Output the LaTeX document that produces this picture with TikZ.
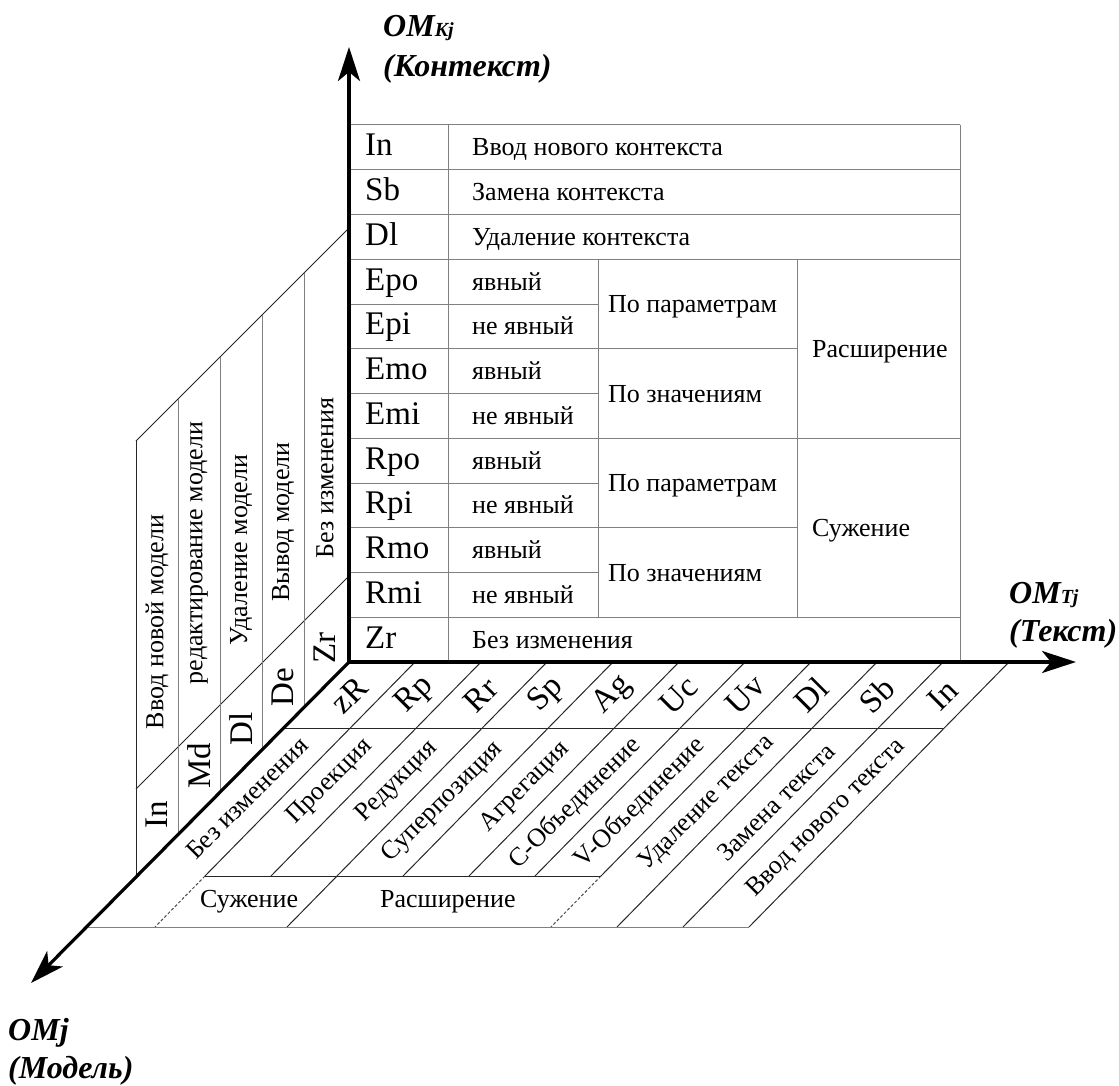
\documentclass[tikz,border=0pt]{standalone}
\usepackage{fontspec}
\setmainfont{Liberation Serif}
\usetikzlibrary{arrows.meta}
\begin{document}
\begin{tikzpicture}[x=1pt,y=-1pt,
  axis/.style={line width=3.2pt, line cap=round, -{Stealth[length=34pt,width=22pt,inset=9pt]}},
  grid/.style={line width=1pt, draw=black!50},
  edge/.style={line width=1pt, draw=black!85},
  seam/.style={line width=1pt, draw=black!70, dash pattern=on 3pt off 2pt},
  code/.style={font=\fontsize{33}{33}\selectfont, inner sep=0pt},
  txt/.style={font=\fontsize{26}{26}\selectfont, inner sep=0pt},
  axlbl/.style={font=\fontsize{32}{32}\selectfont\bfseries\itshape, inner sep=0pt, anchor=base west},
]
\useasboundingbox (0,0) rectangle (1119,1086);

% origin and axis ends
\coordinate (O) at (349,662);
\coordinate (Ktip) at (349,47);
\coordinate (Ttip) at (1076,662);
\coordinate (Mtip) at (31,983);

% ---------- back wall: context table ----------
\foreach \y in {125,169.75,214.5,259.25,438.25,617.25}
  \draw[grid] (349,\y) -- (960,\y);
\foreach \y in {304,393.5,483,572.5}
  \draw[grid] (349,\y) -- (598,\y);
\foreach \y in {348.75,527.75}
  \draw[grid] (349,\y) -- (797,\y);
\draw[grid] (448,125) -- (448,662);
\draw[grid] (598,259.25) -- (598,617.25);
\draw[grid] (797,259.25) -- (797,617.25);
\draw[grid] (960,125) -- (960,662);

\foreach \c [count=\i] in {In,Sb,Dl,Epo,Epi,Emo,Emi,Rpo,Rpi,Rmo,Rmi,Zr}
  \node[code, anchor=base west] (kc\i) at (365,{111.1+44.75*\i}) {\c};

\node[txt, anchor=base west] (kt1) at (472,155.9) {Ввод нового контекста};
\node[txt, anchor=base west] (kt2) at (472,200.6) {Замена контекста};
\node[txt, anchor=base west] (kt3) at (472,245.4) {Удаление контекста};
\foreach \r in {4,6,8,10}
  \node[txt, anchor=base west] (ky\r) at (472,{111.1+44.75*\r}) {явный};
\foreach \r in {5,7,9,11}
  \node[txt, anchor=base west] (kn\r) at (472,{111.1+44.75*\r}) {не явный};
\node[txt, anchor=base west] (kt12) at (472,648.1) {Без изменения};

\node[txt, anchor=base west] (kp1) at (608,312.5) {По параметрам};
\node[txt, anchor=base west] (kv1) at (608,402) {По значениям};
\node[txt, anchor=base west] (kp2) at (608,491.5) {По параметрам};
\node[txt, anchor=base west] (kv2) at (608,581) {По значениям};
\node[txt, anchor=base west] (ke) at (812,357.3) {Расширение};
\node[txt, anchor=base west] (kr) at (812,536.3) {Сужение};

% ---------- side wall: model operations ----------
\draw[edge] (349,228) -- (136,441);
\draw[edge] (349,576) -- (136,789);
\draw[edge] (136,441) -- (136,876);
\foreach \x in {178,220,262,304}
  \draw[grid] (\x,{577-\x}) -- (\x,{662+(349-\x)*1.006});

\node[code, rotate=90] (mc1) at (157,815) {In};
\node[code, rotate=90] (mc2) at (199,766) {Md};
\node[code, rotate=90] (mc3) at (241,729) {Dl};
\node[code, rotate=90] (mc4) at (283,687) {De};
\node[code, rotate=90] (mc5) at (325,648) {Zr};

\node[txt, rotate=90] (mn1) at (157,622) {Ввод новой модели};
\node[txt, rotate=90] (mn2) at (199,553) {редактирование модели};
\node[txt, rotate=90] (mn3) at (241,550) {Удаление модели};
\node[txt, rotate=90] (mn4) at (283,522) {Вывод модели};
\node[txt, rotate=90] (mn5) at (325,478) {Без изменения};

% ---------- floor: text operations ----------
\draw[edge] (415,662) -- (205,876);
\draw[seam] (205,876) -- (155,927);
\draw[edge] (481,662) -- (271,876);
\draw[edge] (547,662) -- (287,927);
\draw[edge] (613,662) -- (403,876);
\draw[edge] (679,662) -- (469,876);
\draw[edge] (745,662) -- (535,876);
\draw[edge] (811,662) -- (601,876);
\draw[seam] (601,876) -- (551,927);
\draw[edge] (877,662) -- (617,927);
\draw[edge] (943,662) -- (683,927);
\draw[edge] (1009,662) -- (749,927);
\draw[edge] (284,728) -- (944,728);
\draw[edge] (205,876) -- (601,876);
\draw[grid] (87,927) -- (749,927);

\foreach \c [count=\i from 0] in {zR,Rp,Rr,Sp,Ag,Uc,Uv,Dl,Sb,In}
  \node[code, rotate=45] (fc\i) at ({349+66*\i},695) {\c};

\node[txt, rotate=45] (fn0) at (247,798) {Без изменения};
\node[txt, rotate=45] (fn1) at (330,782) {Проекция};
\node[txt, rotate=45] (fn2) at (397,782) {Редукция};
\node[txt, rotate=45] (fn3) at (443,802) {Суперпозиция};
\node[txt, rotate=45] (fn4) at (525,787) {Агрегация};
\node[txt, rotate=45] (fn5) at (575,803) {С-Объединение};
\node[txt, rotate=45] (fn6) at (640,803) {V-Объединение};
\node[txt, rotate=45] (fn7) at (707,803) {Удаление текста};
\node[txt, rotate=45] (fn8) at (776,802) {Замена текста};
\node[txt, rotate=45] (fn9) at (826,818) {Ввод нового текста};

\node[txt, anchor=base west] (fb1) at (200,907) {Сужение};
\node[txt, anchor=base west] (fb2) at (380,907) {Расширение};

% ---------- axes ----------
\draw[axis] (O) -- (Ktip);
\draw[axis] (O) -- (Ttip);
\draw[axis] (O) -- (Mtip);

\node[axlbl] (kl1) at (383,37) {OM{\fontsize{20}{20}\selectfont Kj}};
\node[axlbl] (kl2) at (383,77) {(Контекст)};
\node[axlbl] (tl1) at (1009,603) {OM{\fontsize{20}{20}\selectfont Tj}};
\node[axlbl] (tl2) at (1009,641) {(Текст)};
\node[axlbl] (ml1) at (8,1040) {OMj};
\node[axlbl] (ml2) at (8,1078) {(Модель)};
\end{tikzpicture}
\end{document}
